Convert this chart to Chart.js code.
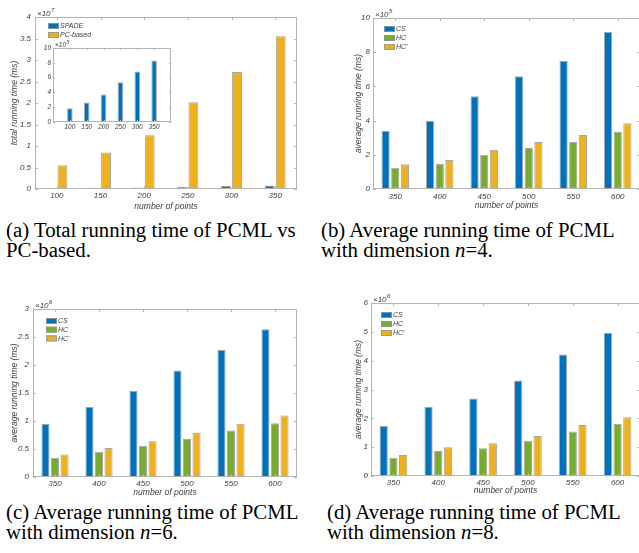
<!DOCTYPE html>
<html>
<head>
<meta charset="utf-8">
<script src="https://cdn.jsdelivr.net/npm/chart.js@4.4.1/dist/chart.umd.min.js"></script>
<style>
  body { margin: 0; background: #fff; }
  #page { position: relative; width: 639px; height: 553px; overflow: hidden; background: #fff; }
  canvas { position: absolute; }
  .cap { position: absolute; font-family: "Liberation Serif", serif; font-size: 20.8px; line-height: 20px; color: #000; white-space: nowrap; }
</style>
</head>
<body>
<div id="page">
  <canvas id="chartA"></canvas>
  <canvas id="chartInset"></canvas>
  <canvas id="chartB"></canvas>
  <canvas id="chartC"></canvas>
  <canvas id="chartD"></canvas>
  <div class="cap" style="left:6px; top:220px">(a) Total running time of PCML vs<br>PC-based.</div>
  <div class="cap" style="left:321px; top:220px">(b) Average running time of PCML<br>with dimension <i>n</i>=4.</div>
  <div class="cap" style="left:6px; top:502px">(c) Average running time of PCML<br>with dimension <i>n</i>=6.</div>
  <div class="cap" style="left:327px; top:502px">(d) Average running time of PCML<br>with dimension <i>n</i>=8.</div>
</div>
<script>
// data (values in the units of each axis, see the x10^k labels)
const pointsA = ['100', '150', '200', '250', '300', '350'];
const spadeA = [0.0187, 0.0263, 0.037, 0.0536, 0.0683, 0.083];     // x10^7
const pcBasedA = [0.55, 0.85, 1.25, 2.02, 2.72, 3.55];              // x10^7
const spadeInset = [1.87, 2.63, 3.7, 5.36, 6.83, 8.3];              // x10^5
const ticksA = [0, 0.5, 1, 1.5, 2, 2.5, 3, 3.5, 4];
const ticksInset = [0, 2, 4, 6, 8, 10];

const pointsN = ['350', '400', '450', '500', '550', '600'];
const csN4 = [3.39, 3.99, 5.43, 6.59, 7.5, 9.2];                    // x10^5
const hcN4 = [1.24, 1.47, 2.0, 2.4, 2.75, 3.35];
const hcpN4 = [1.45, 1.69, 2.29, 2.75, 3.16, 3.84];
const ticksN4 = [0, 2, 4, 6, 8, 10];

const csN6 = [0.95, 1.25, 1.54, 1.9, 2.27, 2.64];                   // x10^6
const hcN6 = [0.345, 0.45, 0.56, 0.685, 0.83, 0.96];
const hcpN6 = [0.4, 0.52, 0.64, 0.79, 0.95, 1.1];
const ticksN6 = [0, 0.5, 1, 1.5, 2, 2.5, 3];

const csN8 = [1.73, 2.39, 2.69, 3.31, 4.21, 4.96];                  // x10^6
const hcN8 = [0.63, 0.87, 0.96, 1.22, 1.54, 1.81];
const hcpN8 = [0.73, 1.0, 1.14, 1.39, 1.77, 2.04];
const ticksN8 = [0, 1, 2, 3, 4, 5, 6];

const BLUE = '#0072BD', GREEN = '#77AC30', YELLOW = '#EDB120';
const EDGE = 'rgba(150,150,150,0.85)';
const TXT = '#404040';
const SANS = '"Liberation Sans", Arial, sans-serif';

// matlab-like box, inner ticks, x10^k label and legend
const matlabAxes = {
  id: 'matlabAxes',
  beforeDraw(chart, args, o) {
    if (!o.fill) return;
    const a = chart.chartArea;
    chart.ctx.save();
    chart.ctx.fillStyle = '#fff';
    chart.ctx.fillRect(a.left, a.top, a.right - a.left, a.bottom - a.top);
    chart.ctx.restore();
  },
  afterDraw(chart, args, o) {
    const {ctx, chartArea: a, scales: {x, y}} = chart;
    ctx.save();
    ctx.strokeStyle = '#b4b4b4';
    ctx.lineWidth = 1;
    ctx.strokeRect(a.left + 0.5, a.top + 0.5, a.right - a.left - 1, a.bottom - a.top - 1);
    const len = o.tick || 3;
    ctx.beginPath();
    y.ticks.forEach(t => {
      const py = Math.round(y.getPixelForValue(t.value)) + 0.5;
      ctx.moveTo(a.left, py); ctx.lineTo(a.left + len, py);
      ctx.moveTo(a.right, py); ctx.lineTo(a.right - len, py);
    });
    x.ticks.forEach(t => {
      const px = Math.round(x.getPixelForValue(t.value)) + 0.5;
      ctx.moveTo(px, a.bottom); ctx.lineTo(px, a.bottom - len);
      ctx.moveTo(px, a.top); ctx.lineTo(px, a.top + len);
    });
    ctx.stroke();

    // x10^k
    const fs = o.expSize || 8;
    ctx.fillStyle = TXT;
    ctx.textBaseline = 'alphabetic';
    ctx.font = 'italic ' + fs + 'px ' + SANS;
    const ex = a.left + 2, ey = a.top - 1;
    ctx.fillText('\u00d710', ex, ey);
    const w = ctx.measureText('\u00d710').width;
    ctx.font = 'italic ' + Math.round(fs * 0.75) + 'px ' + SANS;
    ctx.fillText(o.exp, ex + w + 0.5, ey - fs * 0.45);

    // legend
    if (o.legend) {
      const L = o.legend;
      ctx.font = 'italic 7px ' + SANS;
      ctx.textBaseline = 'middle';
      chart.data.datasets.forEach((ds, i) => {
        const sx = a.left + L.dx, sy = a.top + L.dy + i * L.gap;
        ctx.fillStyle = ds.backgroundColor;
        ctx.fillRect(sx, sy, 11, 6);
        ctx.strokeStyle = EDGE;
        ctx.strokeRect(sx + 0.5, sy + 0.5, 10, 5);
        ctx.fillStyle = TXT;
        ctx.fillText(ds.label, sx + 12, sy + 3.5);
      });
    }
    ctx.restore();
  }
};

function panel(id, g, labels, sets, yTicks, yTitle, extra) {
  const cv = document.getElementById(id);
  cv.width = g.w; cv.height = g.h;
  cv.style.left = g.x + 'px';
  cv.style.top = g.y + 'px';
  const yW = g.left - g.x;
  const xH = g.y + g.h - g.bottom;
  const tickFont = {family: SANS, size: g.fs || 8, style: 'italic'};
  const titleFont = {family: SANS, size: 8.5, style: 'italic'};
  return new Chart(cv, {
    type: 'bar',
    data: {
      datasets: sets.map(s => ({
        label: s.label,
        data: s.values.map((v, i) => ({x: i + 1, y: v})),
        backgroundColor: s.color,
        borderColor: EDGE,
        borderWidth: 1,
        categoryPercentage: g.cat,
        barPercentage: g.bar
      }))
    },
    options: {
      responsive: false,
      animation: false,
      layout: {padding: {left: 0, top: g.top - g.y, right: g.x + g.w - g.right, bottom: 0}},
      plugins: {
        legend: {display: false},
        tooltip: {enabled: false},
        matlabAxes: extra
      },
      scales: {
        x: {
          type: 'linear',
          min: g.xmin, max: g.xmax,
          offset: false,
          grid: {display: false, drawTicks: false},
          border: {display: false},
          afterBuildTicks: s => { s.ticks = labels.map((_, i) => ({value: i + 1})); },
          afterFit: s => { s.height = xH; },
          ticks: {
            callback: v => labels[v - 1],
            font: tickFont, color: TXT, padding: g.xlp,
            maxRotation: 0, autoSkip: false
          },
          title: {
            display: !!g.xtp, text: 'number of points',
            font: titleFont, color: TXT, padding: {top: 0, bottom: g.xtp || 0}
          }
        },
        y: {
          min: 0, max: yTicks[yTicks.length - 1],
          grid: {display: false, drawTicks: false},
          border: {display: false},
          afterBuildTicks: s => { s.ticks = yTicks.map(v => ({value: v})); },
          afterFit: s => { s.width = yW; },
          ticks: {callback: v => String(v), font: tickFont, color: TXT, padding: g.ylp || 4},
          title: {
            display: !!yTitle, text: yTitle,
            font: titleFont, color: TXT, padding: {top: g.ytp || 0, bottom: 0}
          }
        }
      }
    },
    plugins: [matlabAxes]
  });
}

// (a) total running time
panel('chartA',
  {x: 0, y: 0, w: 320, h: 215, left: 35, top: 17, right: 297, bottom: 189,
   xmin: 0.5, xmax: 6.5, cat: 0.51, bar: 0.89, xlp: 2.2, xtp: 2.9, ytp: 9.9},
  pointsA,
  [{label: 'SPADE', values: spadeA, color: BLUE},
   {label: 'PC-based', values: pcBasedA, color: YELLOW}],
  ticksA, 'total running time (ms)',
  {exp: '7', legend: {dx: 13, dy: 6, gap: 9}});

// inset with SPADE only
panel('chartInset',
  {x: 20, y: 35, w: 160, h: 100, left: 53, top: 48, right: 171, bottom: 122,
   xmin: 0, xmax: 7, cat: 0.8, bar: 0.41, xlp: 1, fs: 6.5, ylp: 2},
  pointsA,
  [{label: 'SPADE', values: spadeInset, color: BLUE}],
  ticksInset, '',
  {exp: '5', fill: true, expSize: 6.5, tick: 2});

// (b) n = 4
panel('chartB',
  {x: 320, y: 0, w: 325, h: 215, left: 373, top: 18, right: 640, bottom: 189,
   xmin: 0.5, xmax: 6.5, cat: 0.65, bar: 0.85, xlp: 3.2, xtp: 3.9, ytp: 33.9, ylp: 3},
  pointsN,
  [{label: 'CS', values: csN4, color: BLUE},
   {label: 'HC', values: hcN4, color: GREEN},
   {label: "HC'", values: hcpN4, color: YELLOW}],
  ticksN4, 'average running time (ms)',
  {exp: '5', legend: {dx: 11, dy: 8, gap: 9}});

// (c) n = 6
panel('chartC',
  {x: 0, y: 280, w: 320, h: 220, left: 33, top: 309, right: 297, bottom: 477,
   xmin: 0.5, xmax: 6.5, cat: 0.65, bar: 0.85, xlp: 2.2, xtp: 1.9, ytp: 9.9},
  pointsN,
  [{label: 'CS', values: csN6, color: BLUE},
   {label: 'HC', values: hcN6, color: GREEN},
   {label: "HC'", values: hcpN6, color: YELLOW}],
  ticksN6, 'average running time (ms)',
  {exp: '6', legend: {dx: 13, dy: 9, gap: 8.7}});

// (d) n = 8
panel('chartD',
  {x: 320, y: 280, w: 325, h: 220, left: 371, top: 303, right: 640, bottom: 476,
   xmin: 0.5, xmax: 6.5, cat: 0.65, bar: 0.85, xlp: 2.2, xtp: 3.9, ytp: 33.9, ylp: 3},
  pointsN,
  [{label: 'CS', values: csN8, color: BLUE},
   {label: 'HC', values: hcN8, color: GREEN},
   {label: "HC'", values: hcpN8, color: YELLOW}],
  ticksN8, 'average running time (ms)',
  {exp: '6', legend: {dx: 10, dy: 9, gap: 9}});
</script>
</body>
</html>
